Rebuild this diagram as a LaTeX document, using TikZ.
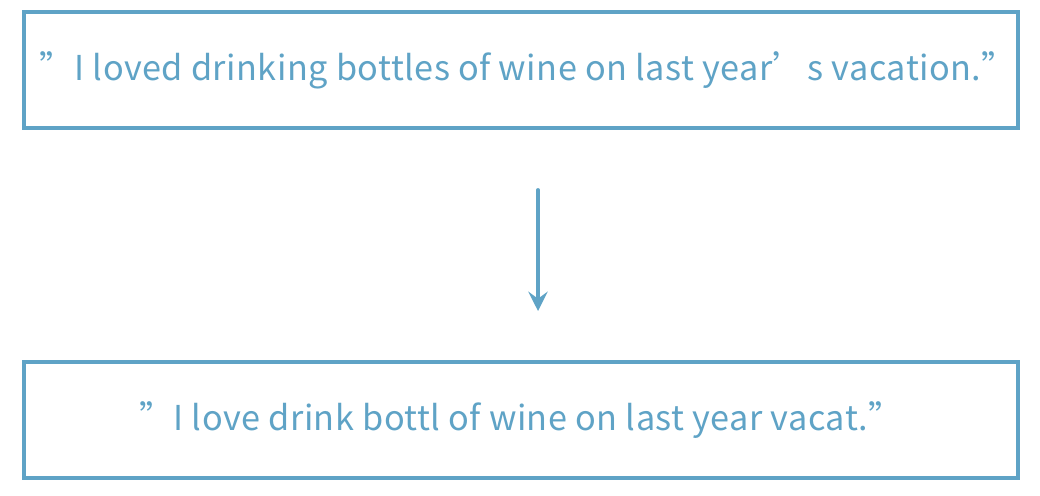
\documentclass[tikz,border=0pt]{standalone}
\usepackage{fontspec}
\setmainfont{Noto Sans CJK SC}[LetterSpace=1.4]
\usetikzlibrary{arrows.meta}
\definecolor{wineblue}{HTML}{5FA3C6}
\begin{document}
\begin{tikzpicture}[x=0.02cm,y=-0.02cm,line cap=round,
	sentbox/.style={draw=wineblue,line width=1.8pt,minimum width=994*0.02cm,minimum height=116*0.02cm,inner sep=0,text=wineblue,font=\fontsize{19.5}{22}\selectfont}]
			\useasboundingbox (0,0) rectangle (1040,496);
			\node[sentbox] (orig) at (521,70) {\hspace*{8pt}”I loved drinking bottles of wine on last year’s vacation.”};
			\node[sentbox] (stem) at (521,420) {”I love drink bottl of wine on last year vacat.”};
			\coordinate (a0) at (538,190);
			\coordinate (a1) at (538,311);
			\draw[-{Stealth[length=11pt,width=11pt,inset=4pt]},draw=wineblue,line width=2.2pt] (a0) -- (a1);
		\end{tikzpicture}
\end{document}
